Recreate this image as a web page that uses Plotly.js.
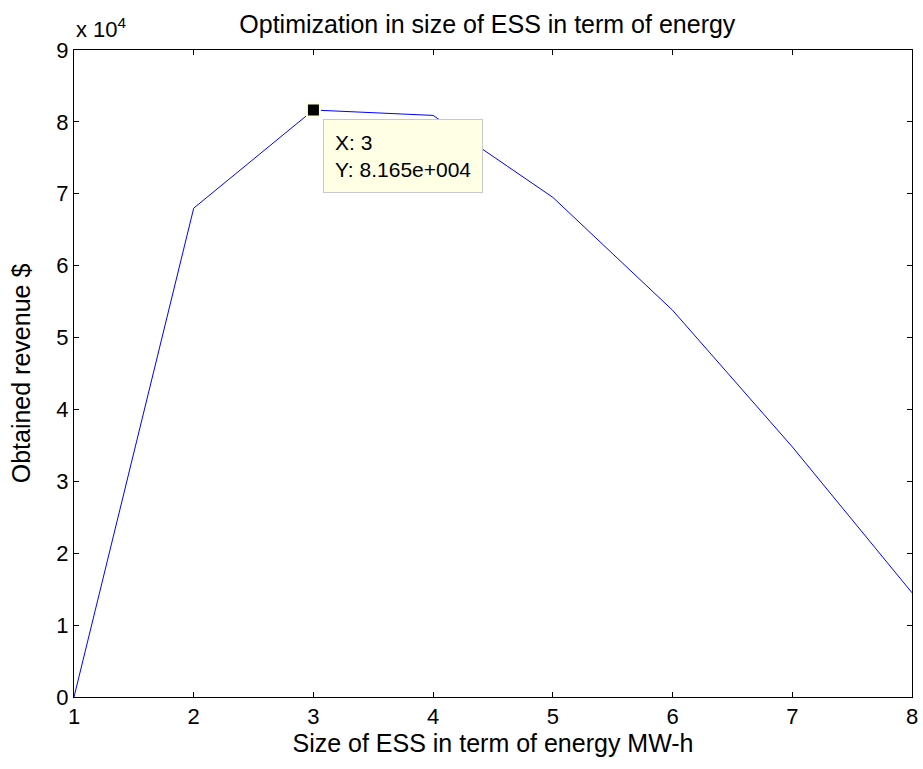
<!DOCTYPE html>
<html>
<head>
<meta charset="utf-8">
<script src="https://cdn.plot.ly/plotly-3.0.1.min.js"></script>
<style>html,body{margin:0;padding:0;background:#fff;}#chart{width:923px;height:769px;}</style>
</head>
<body>
<div id="chart"></div>
<script>
const sizes = [1, 2, 3, 4, 5, 6, 7, 8];
const revenue = [0, 68000, 81650, 80900, 69500, 53800, 34800, 14500];
const xTicks = [1, 2, 3, 4, 5, 6, 7, 8];
const yTickVals = [0, 10000, 20000, 30000, 40000, 50000, 60000, 70000, 80000, 90000];
const yTickText = ["0", "1", "2", "3", "4", "5", "6", "7", "8", "9"];
const tipX = [3];
const tipY = [81650];

const font = {family: "Liberation Sans, Arial, sans-serif", color: "#000"};

const traces = [
  {x: sizes, y: revenue, type: "scatter", mode: "lines",
   line: {color: "#0000ff", width: 1}, hoverinfo: "x+y"},
  {x: tipX, y: tipY, type: "scatter", mode: "markers",
   marker: {symbol: "square", size: 13, color: "#000", line: {color: "#ffffe0", width: 2}}}
];

const axisCommon = {
  showline: true, mirror: "ticks", linecolor: "#000", linewidth: 1,
  ticks: "inside", ticklen: 5, tickcolor: "#000", tickwidth: 1,
  showgrid: false, zeroline: false,
  tickfont: Object.assign({size: 22}, font)
};

const layout = {
  width: 923, height: 769,
  margin: {l: 74, r: 11, t: 50, b: 72},
  paper_bgcolor: "#fff", plot_bgcolor: "#fff",
  showlegend: false,
  font: font,
  title: {text: "Optimization in size of ESS in term of energy", font: Object.assign({size: 25}, font),
          x: 0.528, xanchor: "center", y: 0.969, yanchor: "middle"},
  xaxis: Object.assign({}, axisCommon, {
    range: [1, 8], tickvals: xTicks, ticktext: xTicks.map(String),
    title: {text: "Size of ESS in term of energy MW-h", font: Object.assign({size: 25}, font), standoff: 5}
  }),
  yaxis: Object.assign({}, axisCommon, {
    range: [0, 90000], tickvals: yTickVals, ticktext: yTickText,
    title: {text: "Obtained revenue $", font: Object.assign({size: 25}, font), standoff: 18}
  }),
  annotations: [
    {xref: "paper", yref: "paper", x: 0, y: 1, xanchor: "left", yanchor: "bottom",
     xshift: 0, yshift: 6, showarrow: false,
     text: "x 10<sup>4</sup>", font: Object.assign({size: 22}, font)},
    {xref: "x", yref: "y", x: tipX[0], y: tipY[0], xanchor: "left", yanchor: "top",
     xshift: 10, yshift: -9, showarrow: false, align: "left",
     text: "X: 3<br>Y: 8.165e+004",
     font: Object.assign({size: 21}, font),
     bgcolor: "#ffffe6", bordercolor: "#c8c8c8", borderwidth: 1, borderpad: 11}
  ]
};

Plotly.newPlot("chart", traces, layout, {displayModeBar: false, staticPlot: true});
</script>
</body>
</html>
